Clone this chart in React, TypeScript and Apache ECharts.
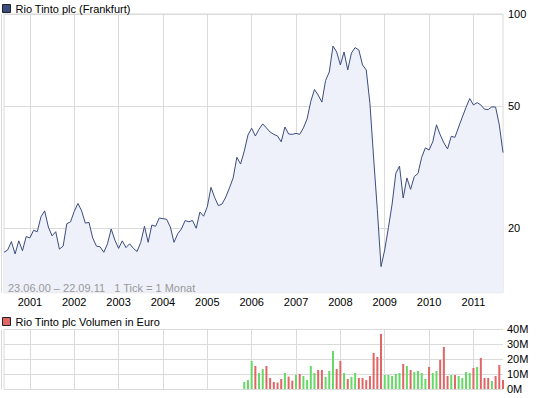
import React, { useEffect, useRef } from "react";
import * as echarts from "echarts";

// ---- Data (monthly, Jun 2000 .. Sep 2011) ----
const START_YEAR = 2000;
const START_MONTH = 6;

const priceEUR = [
  16.7, 17.0, 18.1, 16.5, 18.2, 16.9, 18.8, 18.6, 19.7, 19.5,
  21.8, 22.8, 20.2, 18.9, 19.5, 17.1, 17.5, 20.7, 21.0, 22.7,
  24.1, 22.8, 20.8, 20.9, 18.6, 17.5, 17.4, 16.7, 17.8, 19.9,
  18.3, 17.2, 18.2, 17.3, 17.8, 17.2, 16.8, 18.0, 20.3, 18.0,
  20.5, 20.3, 21.6, 21.5, 21.4, 20.2, 18.0, 19.2, 19.9, 21.2,
  21.0, 21.2, 20.0, 22.6, 21.9, 23.5, 27.2, 25.2, 23.7, 24.0,
  25.3, 27.1, 29.2, 34.1, 32.4, 35.7, 40.3, 42.4, 40.0, 42.1,
  43.8, 42.5, 41.2, 40.5, 40.0, 38.3, 42.8, 40.6, 40.5, 40.8,
  40.5, 42.5, 45.5, 51.9, 56.7, 54.4, 51.6, 60.7, 64.7, 78.6,
  75.2, 68.2, 75.2, 65.7, 74.6, 77.7, 76.3, 68.2, 65.7, 51.1,
  33.9, 23.0, 15.0, 17.0, 20.1, 24.0, 30.2, 31.9, 25.1, 29.2,
  26.8, 29.5, 30.2, 34.1, 36.6, 36.0, 38.3, 43.5, 40.4, 38.0,
  36.3, 39.9, 39.6, 42.8, 46.1, 49.6, 53.0, 50.5, 51.4, 50.5,
  48.9, 48.8, 49.8, 49.7, 43.5, 35.3,
];

// volume in million EUR, starting at month index 65 (Nov 2005)
const volumeStartIndex = 65;
const volumeMillions = [
  4.7, 6.0, 18.8, 15.4, 10.7, 13.4, 15.4, 7.4, 4.7, 4.3,
  6.7, 10.7, 8.3, 5.6, 9.4, 10.1, 8.7, 6.0, 15.4, 10.7,
  12.8, 12.8, 8.1, 12.1, 25.5, 13.4, 18.8, 10.7, 6.7, 8.1,
  10.7, 7.4, 7.4, 6.0, 8.7, 24.2, 21.5, 36.9, 9.4, 9.4,
  8.7, 10.1, 10.7, 16.8, 15.4, 12.8, 11.4, 12.1, 10.7, 6.7,
  14.8, 10.7, 12.1, 19.5, 28.2, 8.7, 9.4, 9.4, 8.7, 7.4,
  11.4, 10.7, 14.1, 14.8, 20.8, 7.4, 7.4, 5.4, 8.7, 16.1,
  6.0,
];
const volumeDirection = [
  "u", "u", "u", "d", "u", "u", "d", "d", "d", "d",
  "d", "u", "d", "d", "u", "d", "u", "u", "u", "u",
  "d", "d", "u", "u", "u", "d", "d", "u", "d", "u",
  "u", "d", "d", "d", "d", "d", "d", "d", "u", "u",
  "u", "u", "u", "d", "u", "d", "u", "u", "u", "u",
  "d", "u", "u", "d", "d", "d", "u", "d", "u", "u",
  "u", "u", "d", "u", "d", "d", "d", "u", "d", "d",
  "d",
];

const priceTicks = [20, 50, 100];
const volumeMaxMillions = 40;
const volumeStepMillions = 10;

const priceName = "Rio Tinto plc (Frankfurt)";
const volumeName = "Rio Tinto plc Volumen in Euro";
const noteText = "23.06.00 \u2013 22.09.11   1 Tick = 1 Monat";

// ---- derived ----
const months: string[] = [];
for (let i = 0; i < priceEUR.length; i++) {
  const m = START_MONTH - 1 + i;
  const y = START_YEAR + Math.floor(m / 12);
  const mm = (m % 12) + 1;
  months.push(`${y}-${String(mm).padStart(2, "0")}`);
}

const GREEN = "#66d866";
const RED = "#e06666";
const FONT = "'Liberation Sans', Arial, sans-serif";
const GRID_COLOR = "#dadada";

const volumeData = months.map((_, i) => {
  const k = i - volumeStartIndex;
  if (k < 0 || k >= volumeMillions.length) return "-";
  return {
    value: volumeMillions[k] * 1e6,
    itemStyle: { color: volumeDirection[k] === "u" ? GREEN : RED },
  };
});

const isJanuary = (_idx: number, val: string) => String(val).endsWith("-01");

export default function App() {
  const ref = useRef<HTMLDivElement>(null);

  useEffect(() => {
    if (!ref.current) return;
    const chart = echarts.init(ref.current, undefined, { renderer: "svg" });
    const gridL = 4;
    const gridW = 499;
    const option: any = {
      animation: false,
      backgroundColor: "#ffffff",
      textStyle: { fontFamily: FONT, fontSize: 11, color: "#000" },
      legend: [
        {
          data: [priceName],
          left: 2,
          top: 3,
          icon: "rect",
          itemWidth: 8,
          itemHeight: 8,
          selectedMode: false,
          padding: 0,
          itemStyle: { borderColor: "#222", borderWidth: 1 },
          textStyle: { fontFamily: FONT, fontSize: 11, color: "#000" },
        },
        {
          data: [volumeName],
          left: 2,
          top: 316,
          icon: "rect",
          itemWidth: 8,
          itemHeight: 8,
          selectedMode: false,
          padding: 0,
          itemStyle: { borderColor: "#222", borderWidth: 1 },
          textStyle: { fontFamily: FONT, fontSize: 11, color: "#000" },
        },
      ],
      grid: [
        {
          left: gridL,
          top: 14,
          width: gridW,
          height: 278.7,
          show: true,
          borderColor: GRID_COLOR,
          borderWidth: 1,
          backgroundColor: "transparent",
        },
        {
          left: gridL,
          top: 329.3,
          width: gridW,
          height: 59.7,
          show: false,
        },
      ],
      xAxis: [
        {
          type: "category",
          gridIndex: 0,
          data: months,
          boundaryGap: false,
          axisLine: { show: false },
          axisTick: { show: false },
          axisLabel: {
            interval: isJanuary,
            formatter: (v: string) => v.slice(0, 4),
            margin: 4,
            fontFamily: FONT,
            fontSize: 11,
            color: "#000",
          },
          splitLine: {
            show: true,
            interval: isJanuary,
            lineStyle: { color: GRID_COLOR, width: 1 },
          },
        },
        {
          type: "category",
          gridIndex: 1,
          data: months,
          boundaryGap: false,
          axisLine: { show: false },
          axisTick: { show: false },
          axisLabel: { show: false },
          splitLine: {
            show: true,
            interval: isJanuary,
            lineStyle: { color: GRID_COLOR, width: 1 },
          },
        },
      ],
      yAxis: [
        {
          type: "log",
          logBase: 10,
          gridIndex: 0,
          position: "right",
          min: 12.33,
          max: 100,
          axisLine: { show: false },
          axisTick: { show: false, customValues: priceTicks },
          axisLabel: {
            customValues: priceTicks,
            margin: 5,
            fontFamily: FONT,
            fontSize: 11,
            color: "#000",
            formatter: (v: number) => String(Math.round(v)),
          },
          splitLine: { show: true, lineStyle: { color: GRID_COLOR, width: 1 } },
        },
        {
          type: "value",
          gridIndex: 1,
          position: "right",
          min: 0,
          max: volumeMaxMillions * 1e6,
          interval: volumeStepMillions * 1e6,
          axisLine: { show: false },
          axisTick: { show: false },
          axisLabel: {
            margin: 4,
            fontFamily: FONT,
            fontSize: 11,
            color: "#000",
            formatter: (v: number) => `${Math.round(v / 1e6)}M`,
          },
          splitLine: { show: true, lineStyle: { color: GRID_COLOR, width: 1 } },
        },
      ],
      series: [
        {
          name: priceName,
          type: "line",
          xAxisIndex: 0,
          yAxisIndex: 0,
          data: priceEUR,
          color: "#3b4c7e",
          symbol: "none",
          showSymbol: false,
          lineStyle: { color: "#3b4c7e", width: 1 },
          areaStyle: { color: "#eef1f9", opacity: 1, origin: "start" },
          itemStyle: { color: "#3b4c7e" },
        },
        {
          name: volumeName,
          type: "bar",
          xAxisIndex: 1,
          yAxisIndex: 1,
          data: volumeData,
          barWidth: 2,
          color: RED,
          itemStyle: { color: RED },
        },
      ],
      graphic: [
        {
          type: "line",
          z: 100,
          shape: { x1: 1.5, y1: 14, x2: 1.5, y2: 292.7 },
          style: { stroke: GRID_COLOR, lineWidth: 1 },
          silent: true,
        },
        {
          type: "line",
          z: 100,
          shape: { x1: 1.5, y1: 329.3, x2: 1.5, y2: 389 },
          style: { stroke: GRID_COLOR, lineWidth: 1 },
          silent: true,
        },
        {
          type: "line",
          z: 100,
          shape: { x1: 4, y1: 329.3, x2: 4, y2: 389 },
          style: { stroke: GRID_COLOR, lineWidth: 1 },
          silent: true,
        },
        {
          type: "text",
          z: 100,
          x: 8,
          y: 282,
          silent: true,
          style: {
            text: noteText,
            fill: "#999999",
            fontFamily: FONT,
            fontSize: 11,
          },
        },
      ],
    };
    chart.setOption(option);
    return () => chart.dispose();
  }, []);

  return (
    <div
      ref={ref}
      style={{ position: "fixed", left: 0, top: 0, width: 545, height: 398 }}
    />
  );
}
